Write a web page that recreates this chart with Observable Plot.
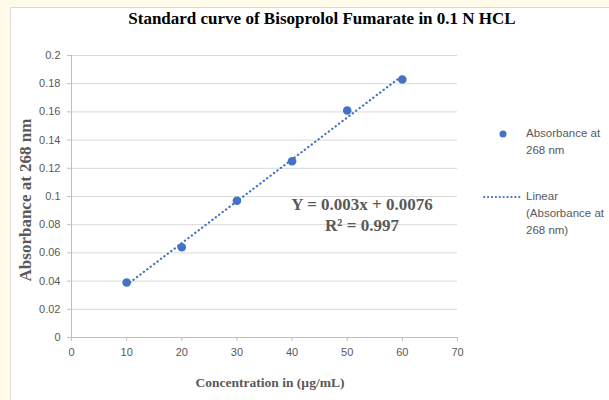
<!DOCTYPE html>
<html><head><meta charset="utf-8">
<script src="https://cdn.jsdelivr.net/npm/d3@7"></script>
<script src="https://cdn.jsdelivr.net/npm/@observablehq/plot@0.6"></script>
<style>
html,body{margin:0;padding:0;background:#fffbe8;}
#wrap{position:relative;width:609px;height:400px;overflow:hidden;background:#fffbe8;}
#card{position:absolute;left:10px;top:7px;width:610px;height:400px;background:#fff;border-left:1px solid #d9d9d9;border-top:1px solid #d9d9d9;}
#title{position:absolute;left:0;width:644px;top:9px;text-align:center;font:bold 17px "Liberation Serif",serif;color:#000;white-space:nowrap;}
#chart{position:absolute;left:0;top:40px;}
#ytitle{position:absolute;left:26px;top:200px;transform:translate(-50%,-50%) rotate(-90deg);font:bold 17px "Liberation Serif",serif;color:#595959;white-space:nowrap;}
#xtitle{position:absolute;left:270px;top:383px;transform:translate(-50%,-50%);font:bold 13.5px "Liberation Serif",serif;color:#595959;white-space:nowrap;}
#eq{position:absolute;left:362px;top:194px;transform:translateX(-50%);font:bold 17px "Liberation Serif",serif;color:#595959;text-align:center;line-height:21px;white-space:nowrap;}
.leg{position:absolute;font:11.5px "Liberation Sans",sans-serif;color:#595959;line-height:17px;}
</style>
</head><body>
<div id="wrap">
  <div id="card"></div>
  <div id="title"></div>
  <div id="chart"></div>
  <div id="ytitle"></div>
  <div id="xtitle"></div>
  <div id="eq"></div>
  <div id="leg1" class="leg" style="left:486px;top:125px;"></div>
  <div id="leg2" class="leg" style="left:482px;top:188px;"></div>
</div>
<script>
const titleText = "Standard curve of Bisoprolol Fumarate in 0.1 N HCL";
const xLabel = "Concentration in (µg/mL)";
const yLabel = "Absorbance at 268 nm";
const concentration = [10, 20, 30, 40, 50, 60];
const absorbance = [0.039, 0.064, 0.097, 0.125, 0.161, 0.183];
const xTicks = [0, 10, 20, 30, 40, 50, 60, 70];
const yTicks = [0, 0.02, 0.04, 0.06, 0.08, 0.1, 0.12, 0.14, 0.16, 0.18, 0.2];
const equationLines = ["Y = 0.003x + 0.0076", "R² = 0.997"];
const legendSeries = ["Absorbance at<br>268 nm"];
const legendTrend = ["Linear<br>(Absorbance at<br>268 nm)"];

const blue = "#4472C4";
const data = concentration.map((c, i) => ({x: c, y: absorbance[i]}));

document.getElementById("title").textContent = titleText;
document.getElementById("xtitle").textContent = xLabel;
document.getElementById("ytitle").textContent = yLabel;
document.getElementById("eq").innerHTML = equationLines.join("<br>");

const fmt = d3.format("~g");
const chart = Plot.plot({
  width: 470,
  height: 360,
  marginLeft: 71,
  marginRight: 13,
  marginTop: 15,
  marginBottom: 63,
  style: {fontFamily: "Liberation Sans, sans-serif", fontSize: "11px", background: "transparent", overflow: "visible"},
  x: {domain: [0, 70]},
  y: {domain: [0, 0.2]},
  marks: [
    Plot.gridY(yTicks, {stroke: "#d9d9d9", strokeOpacity: 1}),
    Plot.ruleX([0], {stroke: "#bfbfbf"}),
    Plot.ruleY([0], {stroke: "#bfbfbf"}),
    Plot.axisY(yTicks, {tickSize: 4, tickPadding: 7, stroke: "#bfbfbf", fill: "#595959", fontSize: 11, tickFormat: fmt, label: null}),
    Plot.axisX(xTicks, {tickSize: 4, tickPadding: 7, stroke: "#bfbfbf", fill: "#595959", fontSize: 11, tickFormat: fmt, label: null}),
    Plot.linearRegressionY(data, {x: "x", y: "y", ci: 0, stroke: blue, strokeWidth: 2.2, strokeDasharray: "0.3,4", strokeLinecap: "round"}),
    Plot.dot(data, {x: "x", y: "y", r: 4.3, fill: blue, stroke: "none"})
  ]
});
document.getElementById("chart").appendChild(chart);

document.getElementById("leg1").innerHTML =
  `<svg width="40" height="17" style="position:absolute;left:0;top:0"><circle cx="17" cy="9" r="3.5" fill="${blue}"/></svg>` +
  `<div style="margin-left:40px">${legendSeries[0]}</div>`;
document.getElementById("leg2").innerHTML =
  `<svg width="40" height="17" style="position:absolute;left:0;top:0"><line x1="2" x2="38" y1="9" y2="9" stroke="${blue}" stroke-width="2" stroke-dasharray="0.3,3.6" stroke-linecap="round"/></svg>` +
  `<div style="margin-left:44px">${legendTrend[0]}</div>`;
</script>
</body></html>
